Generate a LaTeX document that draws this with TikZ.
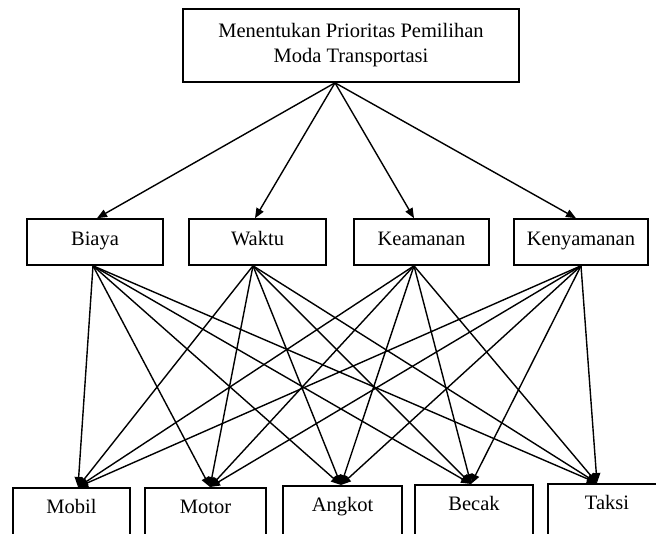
\documentclass[tikz,border=0pt]{standalone}
\usepackage{fontspec}
\setmainfont{Liberation Serif}
\usetikzlibrary{arrows.meta}
\begin{document}
\begin{tikzpicture}[x=1pt,y=-1pt,
  txt/.style={font=\fontsize{20.5}{25}\selectfont},
  topbox/.style={draw,line width=1.6pt,txt,align=center,inner sep=0pt,minimum width=336pt,minimum height=73pt},
  midbox/.style={draw,line width=1.6pt,txt,inner sep=0pt,minimum height=46pt,text height=14pt,text depth=7.5pt},
  botbox/.style={draw,line width=1.6pt,txt,anchor=north,inner xsep=0pt,inner ysep=0pt,text height=26pt,text depth=40pt},
  conn/.style={line width=1.4pt,-{Triangle[length=10pt,width=8pt]}}]
\useasboundingbox (0,0) rectangle (656,534);
\clip (0,0) rectangle (656,534);
\fill[white] (0,0) rectangle (656,534);
\node[topbox] (top) at (351,45.5) {Menentukan Prioritas Pemilihan\\Moda Transportasi};
\node[midbox,minimum width=136pt] (biaya) at (95,242) {Biaya};
\node[midbox,minimum width=137pt] (waktu) at (257.5,242) {Waktu};
\node[midbox,minimum width=135pt] (keamanan) at (421.5,242) {Keamanan};
\node[midbox,minimum width=134pt] (kenyamanan) at (581,242) {Kenyamanan};
\node[botbox,minimum width=117pt] (mobil) at (71.5,487) {Mobil};
\node[botbox,minimum width=121pt] (motor) at (205.5,487) {Motor};
\node[botbox,minimum width=119pt] (angkot) at (342.5,485) {Angkot};
\node[botbox,minimum width=118pt] (becak) at (474,484) {Becak};
\node[botbox,minimum width=118pt] (taksi) at (607,483) {Taksi};
\foreach \t/\tx in {biaya/2,waktu/-2.5,keamanan/-7.5,kenyamanan/-5}
  \draw[conn] ([xshift=-16pt]top.south) -- ([xshift=\tx pt]\t.north);
\foreach \s/\sx in {biaya/-2,waktu/-4.5,keamanan/-7.5,kenyamanan/0}
  \foreach \t/\tx in {mobil/6.5,motor/4.5,angkot/-1.5,becak/-3,taksi/-10}
    \draw[conn] ([xshift=\sx pt]\s.south) -- ([xshift=\tx pt]\t.north);
\end{tikzpicture}
\end{document}
